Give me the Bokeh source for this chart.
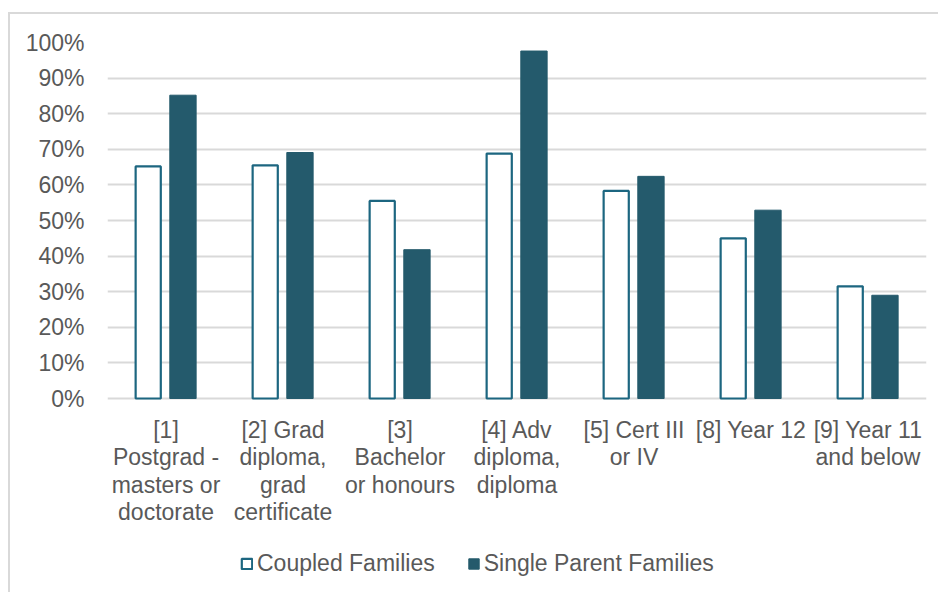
from bokeh.plotting import figure
from bokeh.models import ColumnDataSource, FactorRange, Range1d, NumeralTickFormatter, Legend, LegendItem, FixedTicker
from bokeh.transform import dodge
from bokeh.core.properties import value
from bokeh.embed import file_html
from bokeh.resources import INLINE

categories = [
    "[1]\nPostgrad -\nmasters or\ndoctorate",
    "[2] Grad\ndiploma,\ngrad\ncertificate",
    "[3]\nBachelor\nor honours",
    "[4] Adv\ndiploma,\ndiploma",
    "[5] Cert III\nor IV",
    "[8] Year 12",
    "[9] Year 11\nand below",
]
coupled = [0.652, 0.655, 0.555, 0.688, 0.583, 0.450, 0.315]
single = [0.852, 0.691, 0.418, 0.976, 0.624, 0.529, 0.290]
y_ticks = [0.0, 0.1, 0.2, 0.3, 0.4, 0.5, 0.6, 0.7, 0.8, 0.9, 1.0]

FONT = "Liberation Sans"
TXT = "#595959"
FS = "23px"

# layout (px)
FRAME_H = 548          # frame height incl. room for category labels and legend
PX_PER_UNIT = 356      # 0% .. 100%
y_start = -(FRAME_H - PX_PER_UNIT) / PX_PER_UNIT
label_y = -18 / PX_PER_UNIT

src = ColumnDataSource(dict(cat=categories, coupled=coupled, single=single,
                            ly=[label_y] * len(categories)))

p = figure(x_range=FactorRange(factors=categories), y_range=Range1d(y_start, 1),
           width=930, height=580, output_backend="svg", toolbar_location=None,
           min_border_left=97, min_border_right=14, min_border_top=28, min_border_bottom=4,
           outline_line_color=None, margin=(12, 0, 0, 8))
p.styles = {"border-left": "2px solid #d9d9d9", "border-top": "2px solid #d9d9d9"}

p.ygrid.grid_line_color = "#d9d9d9"
p.ygrid.grid_line_width = 1.8
p.ygrid.ticker = FixedTicker(ticks=y_ticks)
p.xgrid.grid_line_color = None

r1 = p.vbar(x=dodge("cat", -0.152, range=p.x_range), top="coupled", width=0.215, source=src,
            fill_color="white", line_color="#1c6680", line_width=2.2)
r2 = p.vbar(x=dodge("cat", 0.145, range=p.x_range), top="single", width=0.225, source=src,
            fill_color="#245a6c", line_color="#245a6c", line_width=1)

# category labels (multi-line), drawn under the 0% line
p.text(x="cat", y="ly", text="cat", source=src, text_align="center", text_baseline="top",
       text_font=value(FONT), text_font_size=FS, text_color=TXT, text_line_height=1.06)

p.yaxis.ticker = FixedTicker(ticks=y_ticks)
p.yaxis.formatter = NumeralTickFormatter(format="0%")
p.yaxis.axis_line_color = None
p.yaxis.major_tick_line_color = None
p.yaxis.minor_tick_line_color = None
p.yaxis.major_label_standoff = 17
p.yaxis.major_label_text_font = FONT
p.yaxis.major_label_text_font_size = FS
p.yaxis.major_label_text_color = TXT

p.xaxis.visible = False

legend = Legend(items=[LegendItem(label="Coupled Families", renderers=[r1]),
                       LegendItem(label="Single Parent Families", renderers=[r2])],
                location=(133, 13), orientation="horizontal",
                border_line_color=None, background_fill_alpha=0,
                padding=0, margin=0, spacing=32, label_standoff=4,
                glyph_width=13, glyph_height=13,
                label_text_font=FONT, label_text_font_size=FS, label_text_color=TXT)
p.add_layout(legend, "center")

open("out.html", "w").write(file_html(p, INLINE))
